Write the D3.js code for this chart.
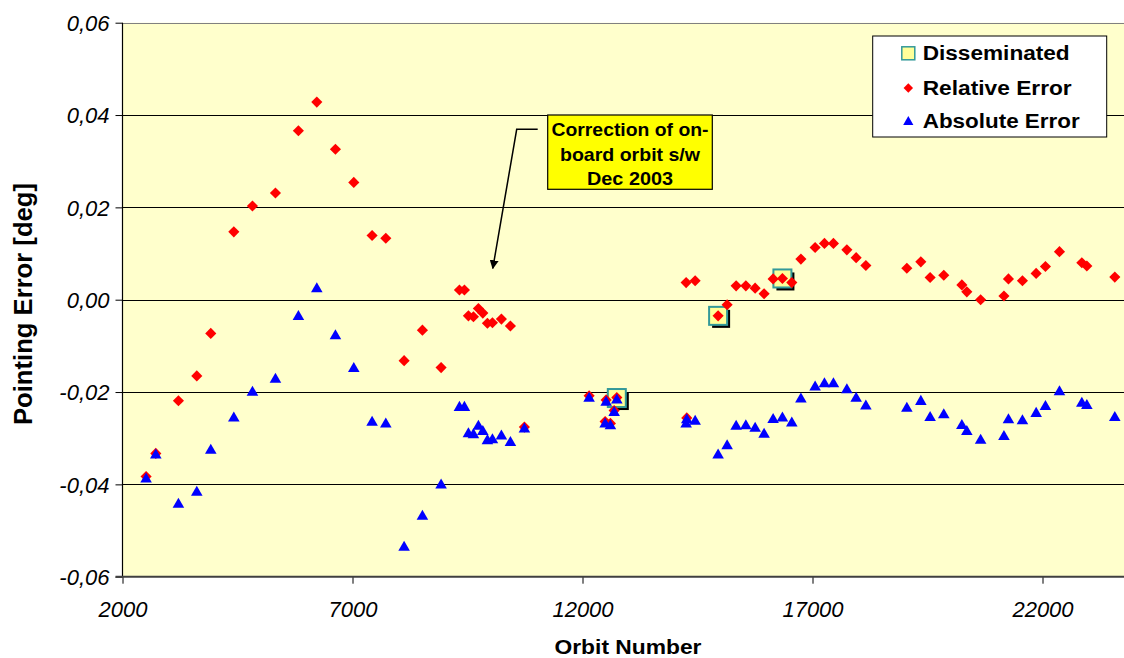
<!DOCTYPE html>
<html><head><meta charset="utf-8">
<script src="https://cdn.jsdelivr.net/npm/d3@7"></script>
<style>
html,body{margin:0;padding:0;background:#fff;}
svg{display:block;font-family:"Liberation Sans",Arial,sans-serif;}
</style></head>
<body><svg id="c" width="1124" height="658"></svg>
<script>
// ---- data ----
const orbits = [2513,2724,3216,3615,3919,4420,4825,5325,5824,6224,6629,7028,7426,7724,8122,8520,8926,
  9325,9433,9520,9629,9737,9833,9933,10042,10237,10433,10737,
  12144,12492,12514,12607,12688,12746,14253,14267,14449,14948,15144,15340,15551,15753,15948,
  16144,16346,16550,16748,17057,17260,17455,17747,17949,18160,19051,19355,19557,19854,20247,20355,
  20655,21162,21260,21564,21862,22064,22369,22855,22964,23572];
const relativeError = [-0.0383,-0.0333,-0.0219,-0.0165,-0.0073,0.0147,0.0203,0.0231,0.0366,0.0428,0.0326,0.0254,0.0139,0.0133,-0.0132,-0.0066,-0.0147,
  0.0021,0.0021,-0.0035,-0.0037,-0.0019,-0.0029,-0.0051,-0.0050,-0.0042,-0.0057,-0.0276,
  -0.0208,-0.0264,-0.0217,-0.0268,-0.0240,-0.0212,0.0037,-0.0256,0.0041,-0.0035,-0.0011,0.0030,0.0030,0.0025,0.0013,
  0.0045,0.0046,0.0037,0.0088,0.0113,0.0122,0.0122,0.0108,0.0091,0.0074,0.0068,0.0082,0.0048,0.0053,0.0032,0.0017,
  0.0000,0.0008,0.0045,0.0041,0.0057,0.0072,0.0104,0.0080,0.0073,0.0049];
const absoluteError = [-0.0385,-0.0333,-0.0440,-0.0414,-0.0323,-0.0253,-0.0197,-0.0169,-0.0033,0.0027,-0.0075,-0.0146,-0.0262,-0.0266,-0.0533,-0.0466,-0.0398,
  -0.0230,-0.0230,-0.0287,-0.0289,-0.0271,-0.0282,-0.0302,-0.0300,-0.0292,-0.0306,-0.0277,
  -0.0210,-0.0266,-0.0219,-0.0270,-0.0241,-0.0214,-0.0266,-0.0257,-0.0260,-0.0333,-0.0313,-0.0271,-0.0270,-0.0275,-0.0288,
  -0.0256,-0.0253,-0.0264,-0.0212,-0.0186,-0.0179,-0.0179,-0.0192,-0.0210,-0.0227,-0.0232,-0.0217,-0.0252,-0.0246,-0.0269,-0.0282,
  -0.0301,-0.0293,-0.0257,-0.0259,-0.0243,-0.0228,-0.0196,-0.0221,-0.0226,-0.0252];
const disseminatedOrbits = [12746,14948,16346];
const disseminatedValues = [-0.0213,-0.0035,0.0046];
const xTicks = [2000,7000,12000,17000,22000];
const xTickLabels = ["2000","7000","12000","17000","22000"];
const yTicks = [-0.06,-0.04,-0.02,0,0.02,0.04,0.06];
const yTickLabels = ["-0,06","-0,04","-0,02","0,00","0,02","0,04","0,06"];
const seriesNames = ["Disseminated","Relative Error","Absolute Error"];
const annotationLines = ["Correction of on-","board orbit s/w","Dec 2003"];
const annotationOrbit = 10050, annotationValue = 0.0068;

// ---- layout ----
const L = 122.5, T = 22.7, B = 576.7, R = 1124;
const x = d3.scaleLinear().domain([2000,24000]).range([L, L + 22000*0.046]);
const y = d3.scaleLinear().domain([-0.06,0.06]).range([B, T]);
const svg = d3.select("#c");

svg.append("rect").attr("x",L).attr("y",T).attr("width",R-L).attr("height",B-T).attr("fill","#FFFFCC");

// gridlines
svg.append("g").selectAll("line").data(yTicks.filter(v=>v>-0.06 && v<0.06)).join("line")
  .attr("x1",L).attr("x2",R).attr("y1",d=>Math.round(y(d))+0.5).attr("y2",d=>Math.round(y(d))+0.5)
  .attr("stroke","#000").attr("stroke-width",1);
svg.append("line").attr("x1",L).attr("x2",R).attr("y1",Math.round(T)+0.5).attr("y2",Math.round(T)+0.5)
  .attr("stroke","#808080").attr("stroke-width",1);

// axes
const fmtY = d => yTickLabels[yTicks.indexOf(d)];
const fmtX = d => xTickLabels[xTicks.indexOf(d)];
const gy = svg.append("g").attr("transform",`translate(${L},0)`)
  .call(d3.axisLeft(y).tickValues(yTicks).tickFormat(fmtY).tickSize(7).tickPadding(6));
const gx = svg.append("g").attr("transform",`translate(0,${B})`)
  .call(d3.axisBottom(x).tickValues(xTicks).tickFormat(fmtX).tickSize(7).tickPadding(18));
[gy,gx].forEach(g=>{
  g.select(".domain").remove();
  g.selectAll("line").attr("stroke","#000");
  g.selectAll("text").attr("font-size",22).attr("font-style","italic").attr("fill","#000")
    .attr("font-family","'Liberation Sans',Arial,sans-serif");
});
gy.selectAll("text").attr("dy","0.36em");
svg.append("line").attr("x1",L).attr("x2",L).attr("y1",T).attr("y2",B).attr("stroke","#000").attr("stroke-width",1.2);
svg.append("line").attr("x1",L-7).attr("x2",R).attr("y1",B).attr("y2",B).attr("stroke","#404040").attr("stroke-width",2);

// marker types
const triBox = {draw(ctx,size){const w=Math.sqrt(size*4/Math.sqrt(3)),h=w*Math.sqrt(3)/2;
  ctx.moveTo(0,-h/2);ctx.lineTo(w/2,h/2);ctx.lineTo(-w/2,h/2);ctx.closePath();}};
const diamond = {draw(ctx,size){const r=Math.sqrt(size/2);
  ctx.moveTo(0,-r);ctx.lineTo(r,0);ctx.lineTo(0,r);ctx.lineTo(-r,0);ctx.closePath();}};

// disseminated squares
const diss = disseminatedOrbits.map((o,i)=>({o,v:disseminatedValues[i]}));
const gd = svg.append("g");
gd.selectAll("rect.sh").data(diss).join("rect").attr("class","sh")
  .attr("x",d=>x(d.o)-9+3).attr("y",d=>y(d.v)-9+3).attr("width",18).attr("height",18).attr("fill","#000");
gd.selectAll("rect.sq").data(diss).join("rect").attr("class","sq")
  .attr("x",d=>x(d.o)-9).attr("y",d=>y(d.v)-9).attr("width",18).attr("height",18)
  .attr("fill","#FFFF99").attr("stroke","#339999").attr("stroke-width",2);

// relative error
svg.append("g").selectAll("path").data(orbits.map((o,i)=>({o,v:relativeError[i]}))).join("path")
  .attr("d",d3.symbol().type(diamond).size(62)).attr("transform",d=>`translate(${x(d.o)},${y(d.v)})`)
  .attr("fill","#FF0000");
// absolute error
svg.append("g").selectAll("path").data(orbits.map((o,i)=>({o,v:absoluteError[i]}))).join("path")
  .attr("d",d3.symbol().type(triBox).size(58)).attr("transform",d=>`translate(${x(d.o)},${y(d.v)})`)
  .attr("fill","#0000FF");

// annotation
const ax = x(annotationOrbit), ay = y(annotationValue);
svg.append("defs").append("marker").attr("id","ah").attr("viewBox","0 0 10 10").attr("refX",9).attr("refY",5)
  .attr("markerWidth",9).attr("markerHeight",9).attr("markerUnits","userSpaceOnUse").attr("orient","auto")
  .append("path").attr("d","M0,0L10,5L0,10z").attr("fill","#000");
svg.append("path").attr("d",`M537.7,129.3L516.7,129.3L${ax},${ay}`).attr("fill","none")
  .attr("stroke","#000").attr("stroke-width",1.5).attr("marker-end","url(#ah)");
svg.append("rect").attr("x",547.7).attr("y",115).attr("width",164.6).attr("height",74.3)
  .attr("fill","#FFFF00").attr("stroke","#000").attr("stroke-width",1.2);
const annW=[157,140,86];
svg.append("g").selectAll("text").data(annotationLines).join("text")
  .attr("x",630).attr("y",(d,i)=>136+i*24.5).attr("text-anchor","middle")
  .attr("font-size",19).attr("font-weight","bold").attr("fill","#000")
  .attr("textLength",(d,i)=>annW[i]).attr("lengthAdjust","spacingAndGlyphs").text(d=>d);

// legend
svg.append("rect").attr("x",872.7).attr("y",36).attr("width",234).attr("height",101)
  .attr("fill","#fff").attr("stroke","#000").attr("stroke-width",1);
const legY=[53.3,88,120.5], legW=[147,149,157];
const lg = svg.append("g");
lg.append("rect").attr("x",908.3-6.5).attr("y",legY[0]-6.5).attr("width",13).attr("height",13)
  .attr("fill","#FFFF99").attr("stroke","#339999").attr("stroke-width",1.5);
lg.append("path").attr("d",d3.symbol().type(diamond).size(45)).attr("transform",`translate(908.3,${legY[1]})`).attr("fill","#FF0000");
lg.append("path").attr("d",d3.symbol().type(triBox).size(45)).attr("transform",`translate(908.3,${legY[2]})`).attr("fill","#0000FF");
lg.selectAll("text").data(seriesNames).join("text")
  .attr("x",922.7).attr("y",(d,i)=>legY[i]+7).attr("font-size",20).attr("font-weight","bold")
  .attr("textLength",(d,i)=>legW[i]).attr("lengthAdjust","spacingAndGlyphs").text(d=>d);

// axis titles
svg.append("text").attr("x",628).attr("y",654).attr("text-anchor","middle")
  .attr("font-size",21).attr("font-weight","bold").attr("textLength",147).attr("lengthAdjust","spacingAndGlyphs")
  .text("Orbit Number");
svg.append("text").attr("transform","translate(32,304) rotate(-90)").attr("text-anchor","middle")
  .attr("font-size",25).attr("font-weight","bold").attr("textLength",242).attr("lengthAdjust","spacingAndGlyphs")
  .text("Pointing Error [deg]");
</script></body></html>
